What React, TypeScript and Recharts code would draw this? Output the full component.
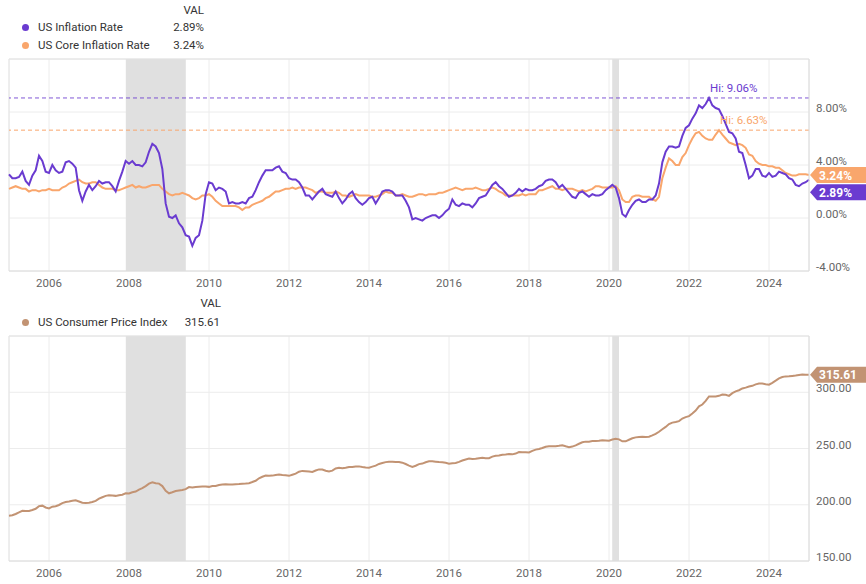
import React from 'react';
import { LineChart, Line, XAxis, YAxis, CartesianGrid, ReferenceArea, ReferenceLine, ReferenceDot } from 'recharts';

// monthly values, Dec 2004 .. Dec 2024 (each point sits at month end)
const inflationRate = [
  3.3,
  3.0, 3.0, 3.1, 3.5, 2.8, 2.5, 3.2, 3.6, 4.7, 4.3, 3.5, 3.4,
  4.0, 3.6, 3.4, 3.5, 4.2, 4.3, 4.1, 3.8, 2.1, 1.3, 2.0, 2.5,
  2.1, 2.4, 2.8, 2.6, 2.7, 2.7, 2.4, 2.0, 2.8, 3.5, 4.3, 4.1,
  4.3, 4.0, 4.0, 3.9, 4.2, 5.0, 5.6, 5.4, 4.9, 3.7, 1.1, 0.1,
  0.0, 0.2, -0.4, -0.7, -1.3, -1.4, -2.1, -1.5, -1.3, -0.2, 1.8, 2.7,
  2.6, 2.1, 2.3, 2.2, 2.0, 1.1, 1.2, 1.1, 1.1, 1.2, 1.1, 1.5,
  1.6, 2.1, 2.7, 3.2, 3.6, 3.6, 3.6, 3.8, 3.9, 3.5, 3.4, 3.0,
  2.9, 2.9, 2.7, 2.3, 1.7, 1.7, 1.4, 1.7, 2.0, 2.2, 1.8, 1.7,
  1.6, 2.0, 1.5, 1.1, 1.4, 1.8, 2.0, 1.5, 1.2, 1.0, 1.2, 1.5,
  1.6, 1.1, 1.5, 2.0, 2.1, 2.1, 2.0, 1.7, 1.7, 1.7, 1.3, 0.8,
  -0.1, 0.0, -0.1, -0.2, 0.0, 0.1, 0.2, 0.2, 0.0, 0.2, 0.5, 0.7,
  1.4, 1.0, 0.9, 1.1, 1.0, 1.0, 0.8, 1.1, 1.5, 1.6, 1.7, 2.1,
  2.5, 2.7, 2.4, 2.2, 1.9, 1.6, 1.7, 1.9, 2.2, 2.0, 2.2, 2.1,
  2.1, 2.2, 2.4, 2.5, 2.8, 2.9, 2.9, 2.7, 2.3, 2.5, 2.2, 1.9,
  1.6, 1.5, 1.9, 2.0, 1.8, 1.6, 1.8, 1.7, 1.7, 1.8, 2.1, 2.3,
  2.5, 2.3, 1.5, 0.3, 0.1, 0.6, 1.0, 1.3, 1.4, 1.2, 1.2, 1.4,
  1.4, 1.7, 2.6, 4.2, 5.0, 5.4, 5.4, 5.3, 5.4, 6.2, 6.8, 7.0,
  7.5, 7.9, 8.5, 8.3, 8.6, 9.06, 8.5, 8.3, 8.2, 7.7, 7.1, 6.5,
  6.4, 6.0, 5.0, 4.9, 4.0, 3.0, 3.2, 3.7, 3.7, 3.2, 3.1, 3.4,
  3.1, 3.2, 3.5, 3.4, 3.3, 3.0, 2.9, 2.5, 2.4, 2.6, 2.7, 2.89,
];

const coreInflationRate = [
  2.2,
  2.3, 2.4, 2.3, 2.2, 2.2, 2.0, 2.1, 2.1, 2.0, 2.1, 2.1, 2.2,
  2.1, 2.1, 2.1, 2.3, 2.4, 2.6, 2.7, 2.8, 2.9, 2.7, 2.6, 2.6,
  2.7, 2.7, 2.5, 2.3, 2.2, 2.2, 2.2, 2.1, 2.1, 2.2, 2.3, 2.4,
  2.5, 2.3, 2.4, 2.3, 2.3, 2.4, 2.5, 2.5, 2.5, 2.2, 2.0, 1.8,
  1.7, 1.8, 1.8, 1.9, 1.8, 1.7, 1.5, 1.4, 1.5, 1.7, 1.7, 1.8,
  1.6, 1.3, 1.1, 0.9, 0.9, 0.9, 0.9, 0.9, 0.8, 0.6, 0.8, 0.8,
  1.0, 1.1, 1.2, 1.3, 1.5, 1.6, 1.8, 2.0, 2.0, 2.1, 2.2, 2.2,
  2.3, 2.2, 2.3, 2.3, 2.3, 2.2, 2.1, 1.9, 2.0, 2.0, 1.9, 1.9,
  1.9, 2.0, 1.9, 1.7, 1.7, 1.6, 1.7, 1.8, 1.7, 1.7, 1.7, 1.7,
  1.6, 1.6, 1.7, 1.8, 2.0, 1.9, 1.9, 1.7, 1.7, 1.8, 1.7, 1.6,
  1.6, 1.7, 1.8, 1.8, 1.7, 1.8, 1.8, 1.8, 1.9, 1.9, 2.0, 2.1,
  2.2, 2.3, 2.2, 2.1, 2.2, 2.2, 2.2, 2.3, 2.2, 2.1, 2.1, 2.2,
  2.3, 2.2, 2.0, 1.9, 1.7, 1.7, 1.7, 1.7, 1.7, 1.8, 1.7, 1.8,
  1.8, 1.8, 2.1, 2.1, 2.2, 2.3, 2.4, 2.2, 2.2, 2.1, 2.2, 2.2,
  2.2, 2.1, 2.0, 2.1, 2.0, 2.1, 2.2, 2.4, 2.4, 2.3, 2.3, 2.3,
  2.3, 2.4, 2.1, 1.4, 1.2, 1.2, 1.6, 1.7, 1.7, 1.6, 1.6, 1.6,
  1.4, 1.3, 1.6, 3.0, 3.8, 4.5, 4.3, 4.0, 4.0, 4.6, 4.9, 5.5,
  6.0, 6.4, 6.5, 6.2, 6.0, 5.9, 5.9, 6.3, 6.63, 6.3, 6.0, 5.7,
  5.6, 5.5, 5.6, 5.5, 5.3, 4.8, 4.7, 4.3, 4.1, 4.0, 4.0, 3.9,
  3.9, 3.8, 3.8, 3.6, 3.4, 3.3, 3.2, 3.2, 3.3, 3.3, 3.3, 3.24,
];

const consumerPriceIndex = [
  190.3,
  190.7, 191.8, 193.3, 194.6, 194.4, 194.5, 195.4, 196.4, 198.8, 199.2, 197.6, 196.8,
  198.3, 198.7, 199.8, 201.5, 202.5, 202.9, 203.5, 203.9, 202.9, 201.8, 201.5, 201.8,
  202.4, 203.5, 205.4, 206.7, 207.9, 208.4, 208.3, 207.9, 208.5, 208.9, 210.2, 210.0,
  211.1, 211.7, 213.5, 214.8, 216.6, 218.8, 220.0, 219.1, 218.8, 216.6, 212.4, 210.2,
  211.1, 212.2, 212.7, 213.2, 213.9, 215.7, 215.4, 215.8, 216.0, 216.2, 216.3, 215.9,
  216.7, 216.7, 217.6, 218.0, 218.2, 218.0, 218.0, 218.3, 218.4, 218.7, 218.8, 219.2,
  220.2, 221.3, 223.5, 224.9, 226.0, 225.7, 225.9, 226.5, 226.9, 226.4, 226.2, 225.7,
  226.7, 227.7, 229.4, 230.1, 229.8, 229.5, 229.1, 230.4, 231.4, 231.3, 230.2, 229.6,
  230.3, 232.2, 232.8, 232.5, 232.9, 233.5, 233.6, 233.9, 234.1, 233.5, 233.1, 233.0,
  233.9, 234.8, 236.3, 237.1, 237.9, 238.3, 238.3, 237.9, 238.0, 237.4, 236.2, 234.8,
  233.7, 234.7, 236.1, 236.6, 237.8, 238.6, 238.7, 238.3, 237.9, 237.8, 237.3, 236.5,
  236.9, 237.1, 238.1, 239.3, 240.2, 241.0, 240.6, 240.8, 241.4, 241.7, 241.4, 241.4,
  242.8, 243.6, 243.8, 244.5, 244.7, 245.0, 244.8, 245.5, 246.8, 246.7, 246.7, 246.5,
  247.9, 249.0, 249.6, 250.5, 251.6, 252.0, 252.0, 252.1, 252.4, 252.9, 252.0, 251.2,
  251.7, 252.8, 254.2, 255.5, 256.1, 256.1, 256.6, 256.6, 256.8, 257.3, 257.2, 257.0,
  258.0, 258.7, 258.1, 256.4, 256.4, 257.8, 259.1, 259.9, 260.3, 260.4, 260.2, 260.5,
  261.6, 263.0, 264.9, 267.1, 269.2, 271.7, 273.0, 273.6, 274.3, 276.6, 277.9, 278.8,
  281.1, 283.7, 287.5, 289.1, 292.3, 296.3, 296.3, 296.2, 296.8, 298.0, 297.7, 296.8,
  299.2, 300.8, 301.8, 303.4, 304.1, 305.1, 305.7, 307.0, 307.8, 307.7, 307.1, 306.7,
  308.4, 310.3, 312.3, 313.5, 314.1, 314.2, 314.5, 314.8, 315.3, 315.7, 315.5, 315.61,
];

const yearTicks = [2006, 2008, 2010, 2012, 2014, 2016, 2018, 2020, 2022, 2024];
const rateTicks = [-4, 0, 4, 8];
const cpiTicks = [150, 200, 250, 300];
const recessions = [
  [2007.92, 2009.42],
  [2020.08, 2020.25],
];

const PURPLE = '#6a3bd0';
const ORANGE = '#f9a66c';
const TAN = '#c29373';
const GRID = '#ececec';
const FONT = 'Roboto, sans-serif';
const FS = 11.5;

const rows = inflationRate.map((v, i) => ({
  t: 2005 + i / 12,
  inflation: v,
  core: coreInflationRate[i],
  cpi: consumerPriceIndex[i],
}));

const last = (arr: number[]) => arr[arr.length - 1];
const peakOf = (arr: number[]) => {
  const max = Math.max(...arr);
  return { t: rows[arr.indexOf(max)].t, v: max };
};
const hiInflation = peakOf(inflationRate);
const hiCore = peakOf(coreInflationRate);

const RightTick = (props: any) => {
  const { x, y, payload, fmt } = props;
  return (
    <text x={x - 1} y={y} fill="#666" fontSize={FS} fontFamily={FONT} textAnchor="start">
      {fmt(payload.value)}
    </text>
  );
};

const Badge = (props: any) => {
  const { cx, cy, color, text, shift = 0 } = props;
  const y = cy + shift;
  const x0 = cx + 1;
  return (
    <g>
      <path d={`M${x0},${y} L${x0 + 7},${y - 8} L866,${y - 8} L866,${y + 8} L${x0 + 7},${y + 8} Z`} fill={color} />
      <text x={x0 + 9} y={y + 4.5} fill="#fff" fontSize={12} fontWeight={700} fontFamily={FONT}>
        {text}
      </text>
    </g>
  );
};

const HiLabel = (props: any) => {
  const { cx, cy, color, text } = props;
  return (
    <text x={cx + 1} y={cy - 6} fill={color} fontSize={FS} fontFamily={FONT}>
      {text}
    </text>
  );
};

const LegendRow = ({ top, color, name, value, right }: any) => (
  <>
    <div style={{ position: 'absolute', left: 22, top: top - 3, width: 7, height: 7, borderRadius: 4, background: color }} />
    <div style={{ position: 'absolute', left: 38, top: top - 7, height: 14, lineHeight: '14px', fontSize: FS, color: '#333' }}>{name}</div>
    <div style={{ position: 'absolute', left: right - 60, width: 60, textAlign: 'right', top: top - 7, height: 14, lineHeight: '14px', fontSize: FS, color: '#333' }}>{value}</div>
  </>
);

const xAxisProps = {
  dataKey: 't',
  type: 'number' as const,
  domain: [2005, 2025],
  ticks: yearTicks,
  tickLine: false,
  axisLine: { stroke: '#dcdcdc' },
  tick: { fill: '#666', fontSize: FS, fontFamily: FONT },
  height: 20,
};

export default function App() {
  return (
    <div style={{ position: 'absolute', left: 0, top: 0, width: 866, height: 584, background: '#fff', fontFamily: FONT, overflow: 'hidden' }}>
      {/* top legend */}
      <div style={{ position: 'absolute', left: 144, width: 60, textAlign: 'right', top: 3, lineHeight: '14px', fontSize: FS, color: '#333' }}>VAL</div>
      <LegendRow top={27} color={PURPLE} name="US Inflation Rate" value={`${last(inflationRate).toFixed(2)}%`} right={204} />
      <LegendRow top={45} color={ORANGE} name="US Core Inflation Rate" value={`${last(coreInflationRate).toFixed(2)}%`} right={204} />

      <div style={{ position: 'absolute', left: 0, top: 0 }}>
        <LineChart width={866} height={292} data={rows} margin={{ top: 59, right: 0, bottom: 1, left: 9 }}>
          <CartesianGrid stroke={GRID} />
          {recessions.map(([a, b]) => (
            <ReferenceArea key={a} x1={a} x2={b} y1={-4} y2={12} fill="#e0e0e0" fillOpacity={1} stroke="none" />
          ))}
          <ReferenceLine y={12} stroke="#e2e2e2" />
          <ReferenceLine x={2005} stroke="#e6e6e6" />
          <XAxis {...xAxisProps} />
          <YAxis
            orientation="right"
            width={57}
            domain={[-4, 12]}
            ticks={rateTicks}
            tickLine={false}
            axisLine={{ stroke: '#dcdcdc' }}
            tick={<RightTick fmt={(v: number) => `${v.toFixed(2)}%`} />}
          />
          <ReferenceLine y={hiInflation.v} stroke={PURPLE} strokeDasharray="4 3" strokeOpacity={0.85} />
          <ReferenceLine y={hiCore.v} stroke={ORANGE} strokeDasharray="4 3" />
          <Line dataKey="core" stroke={ORANGE} strokeWidth={2} dot={false} isAnimationActive={false} />
          <Line dataKey="inflation" stroke={PURPLE} strokeWidth={2} dot={false} isAnimationActive={false} />
          <ReferenceDot x={hiInflation.t} y={hiInflation.v} r={0} shape={(p: any) => <HiLabel {...p} color={PURPLE} text={`Hi: ${hiInflation.v.toFixed(2)}%`} />} />
          <ReferenceDot x={hiCore.t} y={hiCore.v} r={0} shape={(p: any) => <HiLabel {...p} color={ORANGE} text={`Hi: ${hiCore.v.toFixed(2)}%`} />} />
          <ReferenceDot x={2025} y={last(coreInflationRate)} r={0} ifOverflow="visible" shape={(p: any) => <Badge {...p} color={ORANGE} text={`${last(coreInflationRate).toFixed(2)}%`} />} />
          <ReferenceDot x={2025} y={last(inflationRate)} r={0} ifOverflow="visible" shape={(p: any) => <Badge {...p} color={PURPLE} shift={12.5} text={`${last(inflationRate).toFixed(2)}%`} />} />
        </LineChart>
      </div>

      {/* bottom legend */}
      <div style={{ position: 'absolute', left: 161, width: 60, textAlign: 'right', top: 296, lineHeight: '14px', fontSize: FS, color: '#333' }}>VAL</div>
      <LegendRow top={322} color={TAN} name="US Consumer Price Index" value={last(consumerPriceIndex).toFixed(2)} right={220} />

      <div style={{ position: 'absolute', left: 0, top: 292 }}>
        <LineChart width={866} height={292} data={rows} margin={{ top: 44, right: 0, bottom: 3, left: 9 }}>
          <CartesianGrid stroke={GRID} />
          {recessions.map(([a, b]) => (
            <ReferenceArea key={a} x1={a} x2={b} y1={150} y2={350} fill="#e0e0e0" fillOpacity={1} stroke="none" />
          ))}
          <ReferenceLine y={350} stroke="#e2e2e2" />
          <ReferenceLine x={2005} stroke="#e6e6e6" />
          <XAxis {...xAxisProps} />
          <YAxis
            orientation="right"
            width={57}
            domain={[150, 350]}
            ticks={cpiTicks}
            tickLine={false}
            axisLine={{ stroke: '#dcdcdc' }}
            tick={<RightTick fmt={(v: number) => v.toFixed(2)} />}
          />
          <Line dataKey="cpi" stroke={TAN} strokeWidth={2} dot={false} isAnimationActive={false} />
          <ReferenceDot x={2025} y={last(consumerPriceIndex)} r={0} ifOverflow="visible" shape={(p: any) => <Badge {...p} color={TAN} text={last(consumerPriceIndex).toFixed(2)} />} />
        </LineChart>
      </div>
    </div>
  );
}
